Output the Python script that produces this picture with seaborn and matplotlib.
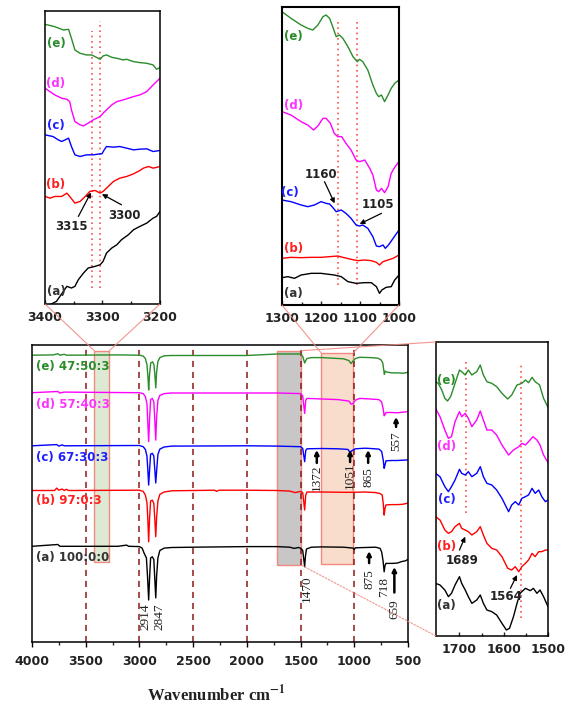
import matplotlib
matplotlib.use('Agg')
import matplotlib.pyplot as plt
import seaborn as sns
from matplotlib.patches import Rectangle, ConnectionPatch
from matplotlib.ticker import MultipleLocator, FixedLocator

# ---------------- data ----------------
names = ['(e)', '(d)', '(c)', '(b)', '(a)']
comps = ['47:50:3', '57:40:3', '67:30:3', '97:0:3', '100:0:0']
colors = ['#2a8c2a', '#ff00ff', '#0000ff', '#ff0000', '#000000']
label_colors = ['#2a8c2a', '#ff33ff', '#2020ff', '#ff2020', '#333333']

# main spectra (wavenumber, transmittance a.u.)
m_wn_e = [4000, 3800, 3760, 3740, 3700, 3680, 3200, 3000, 2965, 2945, 2930, 2920, 2914, 2906, 2895, 2878, 2865, 2856, 2848, 2840, 2828, 2810, 2770, 2700, 2400, 2000, 1720, 1600, 1500, 1480, 1462, 1452, 1440, 1400, 1300, 1200, 1100, 1050, 1030, 1015, 990, 950, 850, 780, 750, 735, 725, 720, 712, 700, 650, 600, 540, 500]
m_t_e = [95.6, 95.7, 96.1, 95.6, 95.9, 95.6, 95.7, 95.6, 95.3, 94.5, 92.5, 88.0, 84.0, 89.0, 93.0, 93.4, 92.5, 89.0, 84.7, 90.0, 93.5, 94.8, 95.4, 95.5, 95.5, 95.5, 96.0, 96.0, 96.0, 95.2, 93.0, 93.8, 94.5, 94.8, 94.8, 94.6, 94.4, 93.8, 92.8, 93.5, 94.5, 94.9, 94.8, 94.6, 94.0, 93.0, 90.5, 89.2, 90.3, 90.0, 89.7, 89.7, 89.6, 89.9]
m_wn_d = [4000, 3760, 3740, 3700, 3000, 2965, 2945, 2930, 2922, 2914, 2906, 2896, 2880, 2866, 2857, 2848, 2840, 2828, 2810, 2770, 2700, 2000, 1720, 1500, 1480, 1462, 1452, 1440, 1300, 1150, 1050, 1030, 1010, 990, 950, 850, 770, 745, 730, 722, 714, 705, 650, 600, 550, 500]
m_t_d = [83.1, 83.5, 83.0, 83.3, 83.1, 82.8, 81.8, 79.5, 73.0, 66.8, 74.0, 80.8, 81.2, 80.0, 74.0, 67.3, 75.0, 80.5, 82.2, 82.8, 83.0, 83.0, 83.0, 82.8, 82.0, 76.2, 80.6, 81.2, 81.0, 80.8, 80.3, 79.3, 79.5, 80.6, 81.2, 81.0, 80.8, 80.0, 77.5, 75.4, 75.8, 76.5, 76.5, 76.4, 76.6, 76.8]
m_wn_c = [4000, 3770, 3750, 3720, 3700, 3000, 2965, 2945, 2930, 2922, 2914, 2906, 2896, 2880, 2866, 2857, 2848, 2840, 2828, 2810, 2770, 2700, 2000, 1720, 1500, 1480, 1462, 1452, 1440, 1300, 1150, 1060, 1040, 1020, 990, 900, 850, 770, 745, 730, 722, 714, 705, 650, 600, 550, 500]
m_t_c = [65.4, 65.8, 65.3, 65.7, 65.4, 65.5, 65.1, 64.2, 62.0, 57.5, 52.3, 57.0, 62.6, 62.9, 62.0, 57.5, 53.0, 57.0, 62.5, 64.3, 65.0, 65.3, 65.4, 65.3, 65.1, 64.5, 60.1, 63.8, 64.4, 64.5, 64.4, 64.2, 63.3, 63.8, 64.4, 64.6, 64.5, 64.3, 63.5, 60.5, 57.9, 59.0, 60.4, 60.5, 60.5, 60.6, 60.7]
m_wn_b = [4000, 3790, 3770, 3750, 3720, 3700, 3680, 3660, 3000, 2965, 2945, 2930, 2922, 2914, 2906, 2896, 2880, 2866, 2857, 2848, 2840, 2828, 2810, 2770, 2700, 2300, 2280, 2260, 2000, 1720, 1600, 1550, 1500, 1480, 1462, 1452, 1440, 1300, 1100, 1000, 900, 800, 760, 740, 730, 722, 714, 705, 650, 600, 550, 500]
m_t_b = [50.5, 50.5, 51.3, 50.6, 51.0, 50.5, 50.9, 50.5, 50.6, 50.2, 49.0, 46.5, 41.0, 33.4, 41.0, 47.0, 47.3, 46.2, 41.0, 35.1, 41.5, 47.0, 49.2, 50.0, 50.4, 50.6, 50.2, 50.6, 50.6, 50.5, 50.3, 49.8, 50.2, 49.8, 44.0, 49.0, 50.0, 50.0, 49.9, 49.9, 50.0, 49.8, 49.5, 49.0, 46.0, 42.3, 44.5, 45.7, 45.8, 45.8, 45.9, 46.3]
m_wn_a = [4000, 3760, 3740, 3200, 3120, 3100, 3000, 2975, 2955, 2935, 2925, 2914, 2906, 2896, 2880, 2866, 2857, 2848, 2840, 2828, 2810, 2770, 2700, 2500, 2000, 1720, 1600, 1560, 1520, 1500, 1480, 1462, 1455, 1445, 1400, 1300, 1100, 1010, 1000, 990, 900, 800, 760, 745, 732, 722, 714, 705, 650, 600, 560, 520, 500]
m_t_a = [31.9, 32.5, 31.9, 31.9, 32.3, 31.9, 31.8, 31.3, 29.5, 28.0, 22.0, 14.0, 21.0, 28.0, 28.4, 27.5, 21.0, 14.7, 22.0, 28.0, 30.5, 31.3, 31.5, 31.6, 31.8, 31.8, 31.6, 31.2, 31.5, 31.3, 30.5, 25.1, 28.5, 31.0, 31.6, 31.7, 31.6, 31.3, 30.8, 31.4, 31.5, 31.6, 31.2, 30.0, 27.0, 23.4, 25.5, 26.2, 26.2, 26.3, 26.8, 27.1, 27.6]

# inset 3400-3200
tl_wn_e = [3400, 3383, 3368, 3359, 3354, 3348, 3339, 3328, 3319, 3313, 3304, 3299, 3293, 3284, 3275, 3264, 3258, 3246, 3235, 3223, 3212, 3206, 3200]
tl_t_e = [84.0, 83.3, 82.3, 82.5, 79.8, 76.3, 75.3, 74.8, 74.8, 74.3, 73.5, 74.5, 74.8, 74.1, 73.8, 73.3, 73.5, 72.8, 72.5, 72.3, 71.8, 70.5, 71.0]
tl_wn_d = [3400, 3383, 3371, 3362, 3357, 3354, 3348, 3339, 3333, 3325, 3316, 3304, 3299, 3293, 3284, 3275, 3264, 3255, 3246, 3235, 3223, 3212, 3200]
tl_t_d = [64.8, 62.8, 61.8, 61.5, 60.8, 58.3, 54.8, 53.8, 53.5, 54.3, 55.3, 56.3, 57.3, 58.3, 59.8, 60.8, 61.3, 61.8, 62.3, 62.8, 63.8, 65.8, 67.8]
tl_wn_c = [3400, 3386, 3377, 3371, 3365, 3359, 3354, 3348, 3339, 3328, 3316, 3304, 3301, 3297, 3293, 3281, 3270, 3258, 3246, 3235, 3223, 3212, 3200]
tl_t_c = [50.8, 50.3, 49.3, 48.8, 49.3, 49.8, 47.3, 44.8, 44.3, 44.8, 44.8, 45.1, 45.1, 46.3, 47.3, 47.1, 47.3, 46.8, 46.3, 46.5, 46.6, 45.8, 46.1]
tl_wn_b = [3400, 3391, 3383, 3371, 3362, 3357, 3348, 3339, 3330, 3322, 3313, 3304, 3299, 3293, 3281, 3270, 3258, 3246, 3235, 3229, 3220, 3212, 3200]
tl_t_b = [32.3, 31.8, 32.3, 32.3, 33.3, 32.3, 30.3, 30.8, 32.3, 33.8, 34.1, 33.3, 33.8, 34.8, 36.8, 37.8, 38.3, 39.1, 40.1, 40.8, 41.3, 40.8, 41.3]
tl_wn_a = [3400, 3391, 3380, 3368, 3362, 3354, 3348, 3342, 3333, 3325, 3313, 3304, 3299, 3293, 3284, 3275, 3267, 3255, 3246, 3235, 3223, 3212, 3206, 3200]
tl_t_a = [-1.5, -0.2, 0.8, 3.8, 5.3, 4.8, 5.3, 7.3, 9.3, 10.8, 11.3, 11.8, 12.8, 15.3, 16.8, 17.8, 19.3, 20.8, 22.3, 23.3, 24.3, 25.8, 26.3, 27.8]

# inset 1300-1000
tm_wn_e = [1300, 1277, 1251, 1234, 1221, 1208, 1195, 1187, 1178, 1170, 1161, 1153, 1144, 1131, 1118, 1107, 1101, 1093, 1080, 1067, 1058, 1052, 1045, 1037, 1028, 1020, 1011, 1000]
tm_t_e = [88.0, 86.0, 84.0, 83.0, 82.5, 84.0, 86.5, 87.0, 86.0, 83.5, 80.5, 81.0, 80.0, 77.5, 74.5, 73.0, 73.7, 73.0, 70.5, 66.0, 63.5, 62.5, 63.0, 61.0, 63.0, 65.0, 66.5, 67.5]
tm_wn_d = [1300, 1277, 1251, 1234, 1219, 1208, 1195, 1187, 1176, 1166, 1157, 1147, 1136, 1123, 1110, 1101, 1088, 1075, 1067, 1058, 1052, 1045, 1037, 1028, 1020, 1010, 1000]
tm_t_d = [58.0, 57.0, 55.0, 54.0, 52.5, 53.7, 56.0, 56.0, 54.5, 51.5, 50.5, 50.5, 48.5, 46.5, 43.5, 43.0, 43.5, 41.0, 39.0, 34.5, 34.0, 35.0, 33.7, 35.5, 39.5, 41.5, 43.0]
tm_wn_c = [1300, 1277, 1251, 1234, 1217, 1200, 1187, 1178, 1170, 1161, 1148, 1136, 1123, 1110, 1101, 1093, 1080, 1067, 1058, 1050, 1041, 1035, 1027, 1015, 1000]
tm_t_c = [31.5, 31.0, 30.0, 29.5, 30.0, 31.0, 30.5, 30.3, 29.3, 28.0, 28.5, 27.5, 26.0, 24.0, 23.7, 24.0, 23.0, 20.5, 17.7, 17.5, 18.0, 17.0, 18.0, 20.0, 22.5]
tm_wn_b = [1300, 1277, 1251, 1225, 1200, 1178, 1157, 1144, 1123, 1105, 1088, 1071, 1058, 1050, 1041, 1028, 1015, 1000]
tm_t_b = [14.0, 14.3, 14.2, 14.3, 14.3, 14.5, 14.7, 14.3, 13.7, 13.3, 13.5, 13.3, 12.8, 12.0, 13.0, 13.5, 14.0, 15.0]
tm_wn_a = [1300, 1285, 1268, 1251, 1225, 1200, 1166, 1148, 1131, 1110, 1088, 1071, 1058, 1050, 1044, 1033, 1020, 1011, 1000]
tm_t_a = [8.2, 8.5, 8.0, 9.0, 9.5, 9.5, 9.0, 8.5, 7.0, 6.5, 6.7, 6.7, 5.5, 3.5, 4.5, 5.3, 5.5, 7.5, 9.0]

# inset 1750-1500
r_wn_e = [1754, 1748, 1740, 1733, 1727, 1720, 1710, 1700, 1695, 1687, 1680, 1672, 1661, 1653, 1646, 1638, 1627, 1616, 1604, 1591, 1582, 1570, 1559, 1551, 1544, 1536, 1529, 1519, 1510, 1500]
r_t_e = [76.3, 75.8, 73.8, 71.3, 70.5, 71.8, 75.8, 79.8, 79.3, 78.3, 79.8, 78.3, 79.3, 81.3, 78.3, 76.3, 75.8, 74.8, 72.8, 71.1, 72.3, 75.3, 75.8, 76.8, 76.0, 77.6, 76.3, 75.3, 71.3, 68.6]
r_wn_d = [1754, 1744, 1733, 1725, 1718, 1710, 1700, 1695, 1687, 1680, 1672, 1661, 1653, 1646, 1638, 1627, 1616, 1604, 1589, 1578, 1566, 1559, 1551, 1544, 1534, 1525, 1518, 1510, 1500]
r_t_d = [68.3, 65.8, 61.8, 59.3, 59.8, 64.3, 67.3, 65.8, 66.8, 65.3, 62.8, 64.8, 67.5, 64.8, 61.8, 61.8, 60.3, 57.3, 54.3, 55.8, 56.8, 57.8, 57.3, 58.3, 59.8, 58.8, 57.3, 54.3, 52.0]
r_wn_c = [1754, 1744, 1733, 1725, 1718, 1710, 1700, 1695, 1687, 1680, 1672, 1661, 1653, 1646, 1638, 1627, 1616, 1604, 1589, 1582, 1574, 1566, 1559, 1551, 1544, 1536, 1529, 1521, 1514, 1506, 1500]
r_t_c = [48.8, 47.8, 44.8, 43.3, 44.8, 46.8, 50.0, 48.8, 48.3, 49.3, 47.8, 48.8, 50.8, 47.8, 45.8, 45.3, 43.8, 41.3, 37.3, 39.3, 40.3, 39.3, 41.3, 41.8, 42.3, 44.3, 42.8, 43.8, 41.8, 40.3, 40.8]
r_wn_b = [1754, 1744, 1733, 1725, 1718, 1710, 1700, 1695, 1687, 1680, 1672, 1661, 1653, 1646, 1638, 1627, 1616, 1604, 1591, 1582, 1574, 1566, 1559, 1551, 1544, 1536, 1529, 1521, 1514, 1506, 1500]
r_t_b = [35.8, 34.8, 31.8, 30.8, 31.3, 32.8, 33.8, 32.3, 31.8, 31.3, 30.3, 31.3, 32.8, 30.3, 27.8, 26.3, 25.8, 23.8, 20.3, 19.8, 20.8, 19.3, 20.8, 21.8, 22.8, 24.8, 23.8, 25.3, 25.3, 25.8, 25.8]
r_wn_a = [1754, 1744, 1733, 1725, 1718, 1710, 1700, 1695, 1687, 1680, 1672, 1661, 1653, 1646, 1638, 1627, 1616, 1604, 1594, 1587, 1578, 1570, 1563, 1551, 1540, 1533, 1525, 1518, 1510, 1500]
r_t_a = [15.8, 15.3, 13.8, 11.8, 12.8, 15.3, 17.8, 15.8, 13.8, 11.8, 9.8, 10.8, 12.3, 9.8, 7.8, 7.3, 6.3, 3.8, 1.8, 2.3, 5.8, 9.8, 12.8, 14.3, 13.6, 14.3, 12.8, 13.8, 11.8, 8.8]

main_ticks = [4000, 3500, 3000, 2500, 2000, 1500, 1000, 500]
guide_lines = [3500, 3000, 2500, 2000, 1500, 1000]

# ---------------- style ----------------
sns.set_theme(style='white')
plt.rcParams['font.family'] = ['DejaVu Sans']
plt.rcParams['mathtext.fontset'] = 'stix'
SERIF = ['Liberation Serif', 'DejaVu Serif']

W, H = 570, 707
fig = plt.figure(figsize=(W / 100, H / 100), dpi=100)
fig.patch.set_facecolor('white')


def box(l, t, r, b):
    return [l / W, 1 - b / H, (r - l) / W, (b - t) / H]


ax = fig.add_axes(box(32, 345, 408, 642))
ax_tl = fig.add_axes(box(45, 11, 160, 304))
ax_tm = fig.add_axes(box(282, 7, 399, 305))
ax_r = fig.add_axes(box(436, 342, 548, 636))

for a in (ax, ax_tl, ax_tm, ax_r):
    a.set_facecolor('white')
    for s in a.spines.values():
        s.set_color('black')
        s.set_linewidth(1.1)
    a.set_yticks([])
    a.set_ylabel('')
    a.set_xlabel('')

# ---------------- main panel ----------------
ax.add_patch(Rectangle((3280, 26.6), 140, 70.5, facecolor='#dde9d3', edgecolor='#f08a80', lw=1.0, zorder=0.5))
ax.add_patch(Rectangle((1498, 25.7), 224, 71.4, facecolor='#c8c6c6', edgecolor='#f08a80', lw=1.0, zorder=0.5))
ax.add_patch(Rectangle((1008, 25.9), 301, 70.5, facecolor='#f9ddcc', edgecolor='#f08a80', lw=1.0, zorder=0.5))
for g in guide_lines:
    ax.axvline(g, color='#8b1a1a', ls=(0, (4, 3.2)), lw=1.1, zorder=0.8)

main_wn = [m_wn_e, m_wn_d, m_wn_c, m_wn_b, m_wn_a]
main_t = [m_t_e, m_t_d, m_t_c, m_t_b, m_t_a]
for xs, ys, c in zip(main_wn, main_t, colors):
    sns.lineplot(x=xs, y=ys, ax=ax, color=c, lw=1.0, sort=False, estimator=None, zorder=2)

lab_y = [91.8, 79.3, 61.4, 47.3, 28.1]
for n, cp, y, c in zip(names, comps, lab_y, label_colors):
    ax.text(3963, y, f'{n} {cp}', color=c, fontsize=8.5, fontweight='bold', ha='left', va='center', zorder=3)

ax.set_xlim(4000, 500)
ax.set_ylim(0, 99)
ax.xaxis.set_major_locator(FixedLocator(main_ticks))
ax.xaxis.set_minor_locator(MultipleLocator(250))
ax.tick_params(axis='x', which='major', direction='out', length=3.5, width=1, pad=6, labelsize=9, colors='black', bottom=True)
ax.tick_params(axis='x', which='minor', direction='out', length=2.5, width=1, bottom=True)
for t in ax.get_xticklabels():
    t.set_fontweight('bold')
    t.set_color('#222222')

ax.set_xlabel(r'Wavenumber cm$^{\mathbf{-1}}$', family=SERIF, fontsize=12, fontweight='bold', color='#222222')
ax.xaxis.set_label_coords(0.49, -0.14)
ax.xaxis.label.set_va('top')
ax.set_ylabel('Transmittance (%)', family=SERIF, fontsize=11.5, fontweight='bold', color='#222222')
ax.yaxis.set_label_coords(-0.018, 0.49)

# rotated peak labels in main panel
peak_txt = ['2914', '2847', '1470', '1372', '1051', '865', '557', '875', '718', '659']
peak_x = [2948, 2817, 1442, 1349, 1039, 871, 611, 862, 722, 627]
peak_y = [8.5, 8.5, 17.7, 54.8, 55.5, 55.0, 66.8, 21.0, 18.3, 11.0]
for s, x, y in zip(peak_txt, peak_x, peak_y):
    ax.text(x, y, s, rotation=90, ha='center', va='center', family=SERIF, fontsize=9.5, color='#222222', zorder=4)
arrow_x = [1349, 1039, 871, 611, 862, 627]
arrow_tail = [59.7, 60.0, 59.7, 71.7, 26.3, 16.5]
arrow_tip = [64.0, 64.0, 64.0, 75.0, 30.3, 25.0]
for x, y0, y1 in zip(arrow_x, arrow_tail, arrow_tip):
    ax.annotate('', xy=(x, y1), xytext=(x, y0),
                arrowprops=dict(arrowstyle='-|>', color='black', lw=1.8, mutation_scale=6, shrinkA=0, shrinkB=0), zorder=4)


# ---------------- insets ----------------
def inset(a, wns, ts, xlim, ylim, majors, minors, lab_x, lab_ys, vls):
    for xs, ys, c in zip(wns, ts, colors):
        sns.lineplot(x=xs, y=ys, ax=a, color=c, lw=1.0, sort=False, estimator=None, zorder=2)
    for x, y0, y1 in vls:
        a.vlines(x, y0, y1, colors='#ff5050', linestyles=(0, (1, 2.2)), lw=1.2, zorder=1)
    for n, y, c in zip(names, lab_ys, label_colors):
        a.text(lab_x, y, n, color=c, fontsize=8.5, fontweight='bold', ha='center', va='center', zorder=3)
    a.set_xlim(*xlim)
    a.set_ylim(*ylim)
    a.xaxis.set_major_locator(FixedLocator(majors))
    a.xaxis.set_minor_locator(FixedLocator(minors))
    a.tick_params(axis='x', which='major', direction='in', length=3, width=1, pad=5, labelsize=9, bottom=True)
    a.tick_params(axis='x', which='minor', direction='in', length=2, width=1, bottom=True)
    for t in a.get_xticklabels():
        t.set_fontweight('bold')
        t.set_color('#222222')


def note(a, s, txy, tail, tip):
    a.text(txy[0], txy[1], s, fontsize=8.5, fontweight='bold', color='#222222', ha='center', va='center', zorder=4)
    a.annotate('', xy=tip, xytext=tail,
               arrowprops=dict(arrowstyle='-|>', color='black', lw=0.9, mutation_scale=7, shrinkA=0, shrinkB=0), zorder=4)


inset(ax_tl, [tl_wn_e, tl_wn_d, tl_wn_c, tl_wn_b, tl_wn_a], [tl_t_e, tl_t_d, tl_t_c, tl_t_b, tl_t_a],
      (3400, 3200), (0, 88.0), [3400, 3300, 3200], [3350, 3250], 3381, [78.3, 66.3, 53.5, 35.8, 3.8],
      [(3319, 4.8, 82.0), (3304, 4.8, 85.0)])
note(ax_tl, '3315', (3354, 23.3), (3342, 26.3), (3320, 33.5))
note(ax_tl, '3300', (3261, 26.5), (3267, 29.8), (3301, 33.0))

inset(ax_tm, [tm_wn_e, tm_wn_d, tm_wn_c, tm_wn_b, tm_wn_a], [tm_t_e, tm_t_d, tm_t_c, tm_t_b, tm_t_a],
      (1300, 1000), (0, 89.4), [1300, 1200, 1100, 1000], [1250, 1150, 1050], 1270, [80.5, 60.0, 33.7, 17.0, 3.5],
      [(1157, 6.0, 85.5), (1107, 6.0, 85.5)])
ax_tm.texts[2].set_x(1281)
note(ax_tm, '1160', (1200, 39.0), (1191, 37.0), (1165, 30.5))
note(ax_tm, '1105', (1054, 30.3), (1045, 27.5), (1101, 24.3))
for s in ax_tm.spines.values():
    s.set_linewidth(1.5)

inset(ax_r, [r_wn_e, r_wn_d, r_wn_c, r_wn_b, r_wn_a], [r_t_e, r_t_d, r_t_c, r_t_b, r_t_a],
      (1753, 1500), (0, 88.2), [1700, 1600, 1500], [1650, 1550], 1729, [76.8, 56.8, 40.8, 26.8, 9.3],
      [(1686, 36.8, 82.8), (1561, 5.3, 82.3)])
note(ax_r, '1689', (1695, 22.8), (1700, 25.8), (1687, 29.8))
note(ax_r, '1564', (1594, 11.8), (1585, 14.3), (1570, 18.3))

# ---------------- connector lines ----------------
conn = dict(color='#f08a80', lw=0.8, alpha=0.9)
for xa, xb in ((3400, 3420), (3200, 3280)):
    fig.add_artist(ConnectionPatch(xyA=(xa, 0), xyB=(xb, 97.1), coordsA='data', coordsB='data',
                                   axesA=ax_tl, axesB=ax, **conn))
for xa, xb in ((1300, 1309), (1000, 1008)):
    fig.add_artist(ConnectionPatch(xyA=(xa, 0), xyB=(xb, 96.4), coordsA='data', coordsB='data',
                                   axesA=ax_tm, axesB=ax, **conn))
fig.add_artist(ConnectionPatch(xyA=(1753, 88.2), xyB=(1498, 97.1), coordsA='data', coordsB='data',
                               axesA=ax_r, axesB=ax, **conn))
fig.add_artist(ConnectionPatch(xyA=(1753, 0), xyB=(1498, 25.7), coordsA='data', coordsB='data',
                               axesA=ax_r, axesB=ax, ls=(0, (1.5, 1.5)), **conn))

fig.savefig('out.png', dpi=100, facecolor='white')
